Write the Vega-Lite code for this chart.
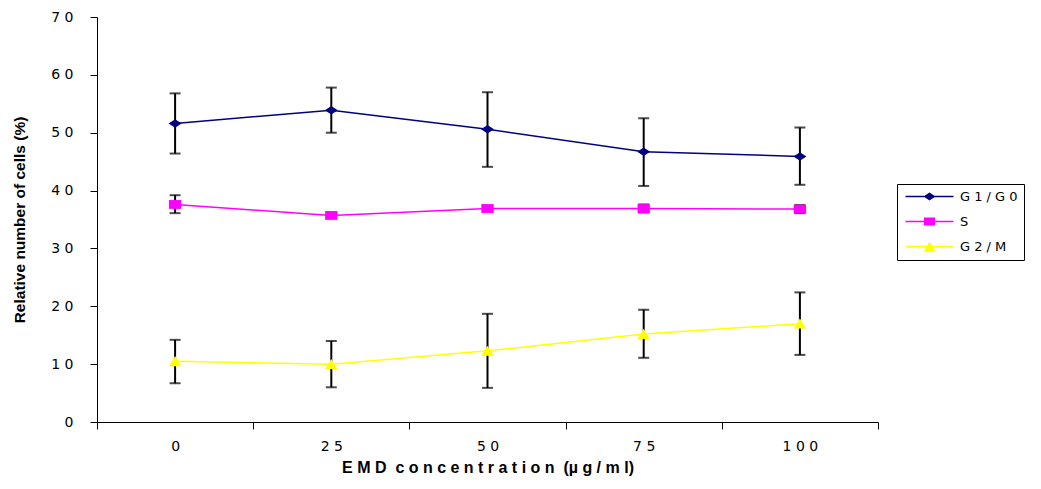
{
  "$schema": "https://vega.github.io/schema/vega-lite/v6.json",
  "width": 781,
  "height": 405,
  "autosize": "none",
  "padding": {"left": 97, "top": 17, "right": 163, "bottom": 67},
  "background": "white",
  "config": {"view": {"stroke": null}, "font": "DejaVu Sans"},
  "data": {
    "values": [
      {"phase": "G1/G0", "conc": "0", "mean": 51.6, "lo": 46.4, "hi": 56.8},
      {"phase": "G1/G0", "conc": "25", "mean": 53.9, "lo": 50.0, "hi": 57.8},
      {"phase": "G1/G0", "conc": "50", "mean": 50.6, "lo": 44.1, "hi": 57.0},
      {"phase": "G1/G0", "conc": "75", "mean": 46.7, "lo": 40.8, "hi": 52.5},
      {"phase": "G1/G0", "conc": "100", "mean": 45.9, "lo": 41.0, "hi": 50.9},
      {"phase": "S", "conc": "0", "mean": 37.6, "lo": 36.1, "hi": 39.2},
      {"phase": "S", "conc": "25", "mean": 35.7, "lo": 35.4, "hi": 36.0},
      {"phase": "S", "conc": "50", "mean": 36.9, "lo": 36.5, "hi": 37.3},
      {"phase": "S", "conc": "75", "mean": 36.9, "lo": 36.2, "hi": 37.6},
      {"phase": "S", "conc": "100", "mean": 36.8, "lo": 36.1, "hi": 37.5},
      {"phase": "G2/M", "conc": "0", "mean": 10.5, "lo": 6.7, "hi": 14.2},
      {"phase": "G2/M", "conc": "25", "mean": 10.0, "lo": 6.0, "hi": 14.0},
      {"phase": "G2/M", "conc": "50", "mean": 12.3, "lo": 5.9, "hi": 18.7},
      {"phase": "G2/M", "conc": "75", "mean": 15.2, "lo": 11.1, "hi": 19.4},
      {"phase": "G2/M", "conc": "100", "mean": 17.0, "lo": 11.6, "hi": 22.4}
    ]
  },
  "encoding": {
    "x": {
      "field": "conc",
      "type": "ordinal",
      "sort": ["0", "25", "50", "75", "100"],
      "scale": {"paddingInner": 0, "paddingOuter": 0},
      "axis": {
        "title": "E M D \u00a0c o n c e n t r a t i o n \u00a0(µ g / m l)",
        "titleFont": "Liberation Sans",
        "titleFontSize": 16,
        "titleFontWeight": "bold",
        "titleColor": "black",
        "titleY": 45,
        "titleBaseline": "middle",
        "labelAngle": 0,
        "labelFont": "DejaVu Sans",
        "labelFontSize": 14,
        "labelColor": "black",
        "labelPadding": 10,
        "labelExpr": "join(split(datum.label, ''), ' ')",
        "tickBand": "extent",
        "tickSize": 7,
        "tickColor": "black",
        "domainColor": "black",
        "grid": false
      }
    }
  },
  "layer": [
    {
      "mark": {"type": "rule", "color": "black", "strokeWidth": 2},
      "encoding": {
        "y": {
          "field": "lo",
          "type": "quantitative",
          "scale": {"domain": [0, 70], "nice": false},
          "axis": {
            "values": [0, 10, 20, 30, 40, 50, 60, 70],
            "title": "Relative number of cells (%)",
            "titleFont": "Liberation Sans",
            "titleFontSize": 15.5,
            "titleFontWeight": "bold",
            "titleColor": "black",
            "titleX": -78,
            "titleY": 202.5,
            "titleAngle": 270,
            "titleAlign": "center",
            "titleBaseline": "middle",
            "labelFont": "DejaVu Sans",
            "labelFontSize": 14,
            "labelColor": "black",
            "labelPadding": 17,
            "labelExpr": "join(split(datum.label, ''), ' ')",
            "tickSize": 7,
            "tickColor": "black",
            "domainColor": "black",
            "grid": false
          }
        },
        "y2": {"field": "hi"}
      }
    },
    {
      "mark": {"type": "tick", "color": "black", "thickness": 2, "size": 11},
      "encoding": {"y": {"field": "lo", "type": "quantitative"}}
    },
    {
      "mark": {"type": "tick", "color": "black", "thickness": 2, "size": 11},
      "encoding": {"y": {"field": "hi", "type": "quantitative"}}
    },
    {
      "transform": [{"filter": "datum.phase === 'G1/G0'"}],
      "mark": {"type": "line", "strokeWidth": 1.5, "color": "#000080"},
      "encoding": {"y": {"field": "mean", "type": "quantitative"}}
    },
    {
      "transform": [{"filter": "datum.phase === 'S'"}],
      "mark": {"type": "line", "strokeWidth": 1.5, "color": "#FF00FF"},
      "encoding": {"y": {"field": "mean", "type": "quantitative"}}
    },
    {
      "transform": [{"filter": "datum.phase === 'G2/M'"}],
      "mark": {"type": "line", "strokeWidth": 1.5, "color": "#FFFF00"},
      "encoding": {"y": {"field": "mean", "type": "quantitative"}}
    },
    {
      "transform": [{"filter": "datum.phase === 'G1/G0'"}],
      "mark": {"type": "point", "filled": true, "opacity": 1, "color": "#000080", "shape": "M-1,0L0,-0.65L1,0L0,0.65Z", "size": 169},
      "encoding": {"y": {"field": "mean", "type": "quantitative"}}
    },
    {
      "transform": [{"filter": "datum.phase === 'S'"}],
      "mark": {"type": "point", "filled": true, "opacity": 1, "color": "#FF00FF", "shape": "M-0.95,-0.68H0.95V0.68H-0.95Z", "size": 169},
      "encoding": {"y": {"field": "mean", "type": "quantitative"}}
    },
    {
      "transform": [{"filter": "datum.phase === 'G2/M'"}],
      "mark": {"type": "point", "filled": true, "opacity": 1, "color": "#FFFF00", "shape": "M0,-0.8L0.95,0.75H-0.95Z", "size": 169},
      "encoding": {"y": {"field": "mean", "type": "quantitative"}}
    },
    {
      "mark": {"type": "point", "filled": true, "opacity": 0},
      "encoding": {
        "y": {"field": "mean", "type": "quantitative"},
        "color": {
          "field": "phase",
          "type": "nominal",
          "scale": {"domain": ["G1/G0", "S", "G2/M"], "range": ["#000080", "#FF00FF", "#FFFF00"]},
          "legend": {
            "title": null,
            "orient": "none",
            "legendX": 800,
            "legendY": 167,
            "padding": 6,
            "strokeColor": "black",
            "symbolOpacity": 1,
            "symbolSize": 100,
            "symbolOffset": 20,
            "symbolStrokeWidth": 0,
            "labelOffset": 24,
            "rowPadding": 11,
            "labelFont": "DejaVu Sans",
            "labelFontSize": 13,
            "labelColor": "black",
            "labelExpr": "join(split(datum.label, ''), ' ') + ' \u00a0\u00a0'"
          }
        },
        "shape": {
          "field": "phase",
          "type": "nominal",
          "scale": {
            "domain": ["G1/G0", "S", "G2/M"],
            "range": [
              "M-4.8,-0.13H4.8V0.13H-4.8Z M-1.2,0L0,-0.8L1.2,0L0,0.8Z",
              "M-4.8,-0.13H4.8V0.13H-4.8Z M-1.1,-0.8H1.1V0.8H-1.1Z",
              "M-4.8,-0.13H4.8V0.13H-4.8Z M0,-1L1.2,1H-1.2Z"
            ]
          },
          "legend": {
            "title": null,
            "orient": "none",
            "legendX": 800,
            "legendY": 167,
            "padding": 6,
            "strokeColor": "black",
            "symbolOpacity": 1,
            "symbolSize": 100,
            "symbolOffset": 20,
            "symbolStrokeWidth": 0,
            "labelOffset": 24,
            "rowPadding": 11,
            "labelFont": "DejaVu Sans",
            "labelFontSize": 13,
            "labelColor": "black",
            "labelExpr": "join(split(datum.label, ''), ' ') + ' \u00a0\u00a0'"
          }
        }
      }
    }
  ]
}
